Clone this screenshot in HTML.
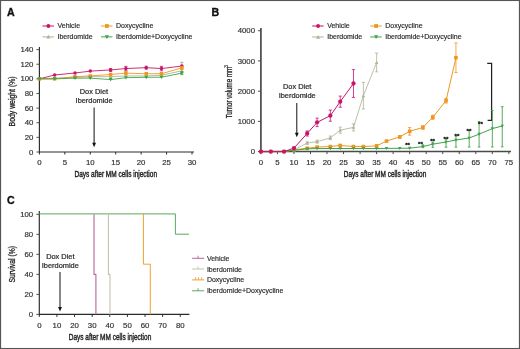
<!DOCTYPE html>
<html><head><meta charset="utf-8"><style>
html,body{margin:0;padding:0;background:#fff;}
svg{display:block;font-family:"Liberation Sans", sans-serif;will-change:transform;filter:blur(0.3px);}
</style></head><body>
<svg width="520" height="349" viewBox="0 0 520 349">
<rect width="520" height="349" fill="#fff"/>
<rect x="0.55" y="0.5" width="518.9" height="348" fill="none" stroke="#555" stroke-width="1.1"/>
<text x="6.90" y="15.90" font-size="10.6" text-anchor="start" fill="#111" font-weight="bold" stroke="#111" stroke-width="0.35" >A</text>
<line x1="39.40" y1="47.00" x2="39.40" y2="152.50" stroke="#2a2a2a" stroke-width="1.15" />
<line x1="38.90" y1="152.00" x2="194.01" y2="152.00" stroke="#2a2a2a" stroke-width="1.15" />
<line x1="36.40" y1="152.00" x2="39.40" y2="152.00" stroke="#444" stroke-width="0.9" />
<text x="33.40" y="154.55" font-size="7.8" text-anchor="end" fill="#333333" font-weight="normal" stroke="#333333" stroke-width="0.18" >0</text>
<line x1="36.40" y1="137.37" x2="39.40" y2="137.37" stroke="#444" stroke-width="0.9" />
<text x="33.40" y="139.92" font-size="7.8" text-anchor="end" fill="#333333" font-weight="normal" stroke="#333333" stroke-width="0.18" >20</text>
<line x1="36.40" y1="122.74" x2="39.40" y2="122.74" stroke="#444" stroke-width="0.9" />
<text x="33.40" y="125.29" font-size="7.8" text-anchor="end" fill="#333333" font-weight="normal" stroke="#333333" stroke-width="0.18" >40</text>
<line x1="36.40" y1="108.12" x2="39.40" y2="108.12" stroke="#444" stroke-width="0.9" />
<text x="33.40" y="110.67" font-size="7.8" text-anchor="end" fill="#333333" font-weight="normal" stroke="#333333" stroke-width="0.18" >60</text>
<line x1="36.40" y1="93.49" x2="39.40" y2="93.49" stroke="#444" stroke-width="0.9" />
<text x="33.40" y="96.04" font-size="7.8" text-anchor="end" fill="#333333" font-weight="normal" stroke="#333333" stroke-width="0.18" >80</text>
<line x1="36.40" y1="78.86" x2="39.40" y2="78.86" stroke="#444" stroke-width="0.9" />
<text x="33.40" y="81.41" font-size="7.8" text-anchor="end" fill="#333333" font-weight="normal" stroke="#333333" stroke-width="0.18" >100</text>
<line x1="36.40" y1="64.23" x2="39.40" y2="64.23" stroke="#444" stroke-width="0.9" />
<text x="33.40" y="66.78" font-size="7.8" text-anchor="end" fill="#333333" font-weight="normal" stroke="#333333" stroke-width="0.18" >120</text>
<line x1="36.40" y1="49.60" x2="39.40" y2="49.60" stroke="#444" stroke-width="0.9" />
<text x="33.40" y="52.15" font-size="7.8" text-anchor="end" fill="#333333" font-weight="normal" stroke="#333333" stroke-width="0.18" >140</text>
<line x1="39.40" y1="152.00" x2="39.40" y2="154.50" stroke="#2a2a2a" stroke-width="1.0" />
<text x="39.40" y="164.80" font-size="7.8" text-anchor="middle" fill="#333333" font-weight="normal" stroke="#333333" stroke-width="0.18" >0</text>
<line x1="64.83" y1="152.00" x2="64.83" y2="154.50" stroke="#2a2a2a" stroke-width="1.0" />
<text x="64.83" y="164.80" font-size="7.8" text-anchor="middle" fill="#333333" font-weight="normal" stroke="#333333" stroke-width="0.18" >5</text>
<line x1="90.27" y1="152.00" x2="90.27" y2="154.50" stroke="#2a2a2a" stroke-width="1.0" />
<text x="90.27" y="164.80" font-size="7.8" text-anchor="middle" fill="#333333" font-weight="normal" stroke="#333333" stroke-width="0.18" >10</text>
<line x1="115.70" y1="152.00" x2="115.70" y2="154.50" stroke="#2a2a2a" stroke-width="1.0" />
<text x="115.70" y="164.80" font-size="7.8" text-anchor="middle" fill="#333333" font-weight="normal" stroke="#333333" stroke-width="0.18" >15</text>
<line x1="141.14" y1="152.00" x2="141.14" y2="154.50" stroke="#2a2a2a" stroke-width="1.0" />
<text x="141.14" y="164.80" font-size="7.8" text-anchor="middle" fill="#333333" font-weight="normal" stroke="#333333" stroke-width="0.18" >20</text>
<line x1="166.57" y1="152.00" x2="166.57" y2="154.50" stroke="#2a2a2a" stroke-width="1.0" />
<text x="166.57" y="164.80" font-size="7.8" text-anchor="middle" fill="#333333" font-weight="normal" stroke="#333333" stroke-width="0.18" >25</text>
<line x1="192.01" y1="152.00" x2="192.01" y2="154.50" stroke="#2a2a2a" stroke-width="1.0" />
<text x="192.01" y="164.80" font-size="7.8" text-anchor="middle" fill="#333333" font-weight="normal" stroke="#333333" stroke-width="0.18" >30</text>
<text x="115.75" y="177.20" font-size="8.7" text-anchor="middle" fill="#222" font-weight="normal" stroke="#222" stroke-width="0.4" textLength="82.5" lengthAdjust="spacingAndGlyphs" >Days after MM cells injection</text>
<text x="14.60" y="101.40" font-size="8.2" text-anchor="middle" fill="#222" font-weight="normal" stroke="#222" stroke-width="0.3" textLength="50" lengthAdjust="spacingAndGlyphs" transform="rotate(-90 14.60 101.40)" >Body weight (%)</text>
<text x="93.90" y="93.90" font-size="7.4" text-anchor="middle" fill="#2a2a2a" font-weight="normal" stroke="#2a2a2a" stroke-width="0.22" >Dox Diet</text>
<text x="94.10" y="102.70" font-size="7.4" text-anchor="middle" fill="#2a2a2a" font-weight="normal" stroke="#2a2a2a" stroke-width="0.22" >Iberdomide</text>
<line x1="94.10" y1="107.50" x2="94.10" y2="143.70" stroke="#111" stroke-width="1.0" />
<polygon points="92.20,142.70 96.00,142.70 94.10,147.20" fill="#111"/>
<line x1="181.84" y1="66.79" x2="181.84" y2="62.33" stroke="#b08aa8" stroke-width="0.8" />
<line x1="180.24" y1="66.79" x2="183.44" y2="66.79" stroke="#b08aa8" stroke-width="0.8" />
<line x1="180.24" y1="62.33" x2="183.44" y2="62.33" stroke="#b08aa8" stroke-width="0.8" />
<line x1="181.84" y1="73.01" x2="181.84" y2="68.62" stroke="#b0b396" stroke-width="0.8" />
<line x1="180.24" y1="73.01" x2="183.44" y2="73.01" stroke="#b0b396" stroke-width="0.8" />
<line x1="180.24" y1="68.62" x2="183.44" y2="68.62" stroke="#b0b396" stroke-width="0.8" />
<polyline points="39.40,78.86 54.66,78.13 75.01,77.40 90.27,76.67 110.62,76.67 125.88,75.93 146.23,75.93 161.49,75.20 181.84,70.81" fill="none" stroke="#b0b396" stroke-width="0.9" stroke-linejoin="round"/>
<polygon points="39.40,77.06 37.60,80.30 41.20,80.30" fill="#b0b396"/>
<polygon points="54.66,76.33 52.86,79.57 56.46,79.57" fill="#b0b396"/>
<polygon points="75.01,75.60 73.21,78.84 76.81,78.84" fill="#b0b396"/>
<polygon points="90.27,74.87 88.47,78.11 92.07,78.11" fill="#b0b396"/>
<polygon points="110.62,74.87 108.82,78.11 112.42,78.11" fill="#b0b396"/>
<polygon points="125.88,74.13 124.08,77.37 127.68,77.37" fill="#b0b396"/>
<polygon points="146.23,74.13 144.43,77.37 148.03,77.37" fill="#b0b396"/>
<polygon points="161.49,73.40 159.69,76.64 163.29,76.64" fill="#b0b396"/>
<polygon points="181.84,69.01 180.04,72.25 183.64,72.25" fill="#b0b396"/>
<line x1="110.62" y1="71.40" x2="110.62" y2="68.47" stroke="#c8146a" stroke-width="0.8" />
<line x1="109.02" y1="71.40" x2="112.22" y2="71.40" stroke="#c8146a" stroke-width="0.8" />
<line x1="109.02" y1="68.47" x2="112.22" y2="68.47" stroke="#c8146a" stroke-width="0.8" />
<line x1="125.88" y1="70.74" x2="125.88" y2="66.35" stroke="#c8146a" stroke-width="0.8" />
<line x1="124.28" y1="70.74" x2="127.48" y2="70.74" stroke="#c8146a" stroke-width="0.8" />
<line x1="124.28" y1="66.35" x2="127.48" y2="66.35" stroke="#c8146a" stroke-width="0.8" />
<line x1="146.23" y1="69.13" x2="146.23" y2="66.21" stroke="#c8146a" stroke-width="0.8" />
<line x1="144.63" y1="69.13" x2="147.83" y2="69.13" stroke="#c8146a" stroke-width="0.8" />
<line x1="144.63" y1="66.21" x2="147.83" y2="66.21" stroke="#c8146a" stroke-width="0.8" />
<line x1="161.49" y1="70.74" x2="161.49" y2="66.35" stroke="#c8146a" stroke-width="0.8" />
<line x1="159.89" y1="70.74" x2="163.09" y2="70.74" stroke="#c8146a" stroke-width="0.8" />
<line x1="159.89" y1="66.35" x2="163.09" y2="66.35" stroke="#c8146a" stroke-width="0.8" />
<polyline points="39.40,78.86 54.66,74.98 75.01,73.01 90.27,71.11 110.62,69.94 125.88,68.55 146.23,67.67 161.49,68.55 181.84,66.06" fill="none" stroke="#c8146a" stroke-width="0.9" stroke-linejoin="round"/>
<circle cx="39.40" cy="78.86" r="1.76" fill="#c8146a"/>
<circle cx="54.66" cy="74.98" r="1.76" fill="#c8146a"/>
<circle cx="75.01" cy="73.01" r="1.76" fill="#c8146a"/>
<circle cx="90.27" cy="71.11" r="1.76" fill="#c8146a"/>
<circle cx="110.62" cy="69.94" r="1.76" fill="#c8146a"/>
<circle cx="125.88" cy="68.55" r="1.76" fill="#c8146a"/>
<circle cx="146.23" cy="67.67" r="1.76" fill="#c8146a"/>
<circle cx="161.49" cy="68.55" r="1.76" fill="#c8146a"/>
<circle cx="181.84" cy="66.06" r="1.76" fill="#c8146a"/>
<line x1="125.88" y1="74.62" x2="125.88" y2="71.69" stroke="#f0961e" stroke-width="0.8" />
<line x1="124.28" y1="74.62" x2="127.48" y2="74.62" stroke="#f0961e" stroke-width="0.8" />
<line x1="124.28" y1="71.69" x2="127.48" y2="71.69" stroke="#f0961e" stroke-width="0.8" />
<line x1="181.84" y1="69.35" x2="181.84" y2="66.43" stroke="#f0961e" stroke-width="0.8" />
<line x1="180.24" y1="69.35" x2="183.44" y2="69.35" stroke="#f0961e" stroke-width="0.8" />
<line x1="180.24" y1="66.43" x2="183.44" y2="66.43" stroke="#f0961e" stroke-width="0.8" />
<polyline points="39.40,78.86 54.66,78.86 75.01,76.67 90.27,75.93 110.62,74.47 125.88,73.16 146.23,73.74 161.49,73.74 181.84,67.89" fill="none" stroke="#f0961e" stroke-width="0.9" stroke-linejoin="round"/>
<rect x="37.69" y="77.15" width="3.42" height="3.42" fill="#f0961e"/>
<rect x="52.95" y="77.15" width="3.42" height="3.42" fill="#f0961e"/>
<rect x="73.30" y="74.96" width="3.42" height="3.42" fill="#f0961e"/>
<rect x="88.56" y="74.22" width="3.42" height="3.42" fill="#f0961e"/>
<rect x="108.91" y="72.76" width="3.42" height="3.42" fill="#f0961e"/>
<rect x="124.17" y="71.45" width="3.42" height="3.42" fill="#f0961e"/>
<rect x="144.52" y="72.03" width="3.42" height="3.42" fill="#f0961e"/>
<rect x="159.78" y="72.03" width="3.42" height="3.42" fill="#f0961e"/>
<rect x="180.13" y="66.18" width="3.42" height="3.42" fill="#f0961e"/>
<line x1="181.84" y1="74.62" x2="181.84" y2="71.69" stroke="#3fa34a" stroke-width="0.8" />
<line x1="180.24" y1="74.62" x2="183.44" y2="74.62" stroke="#3fa34a" stroke-width="0.8" />
<line x1="180.24" y1="71.69" x2="183.44" y2="71.69" stroke="#3fa34a" stroke-width="0.8" />
<polyline points="39.40,78.86 54.66,78.86 75.01,78.13 90.27,78.13 110.62,79.59 125.88,77.69 146.23,77.32 161.49,77.18 181.84,73.16" fill="none" stroke="#3fa34a" stroke-width="0.9" stroke-linejoin="round"/>
<polygon points="39.40,80.76 37.50,77.34 41.30,77.34" fill="#3fa34a"/>
<polygon points="54.66,80.76 52.76,77.34 56.56,77.34" fill="#3fa34a"/>
<polygon points="75.01,80.03 73.11,76.61 76.91,76.61" fill="#3fa34a"/>
<polygon points="90.27,80.03 88.37,76.61 92.17,76.61" fill="#3fa34a"/>
<polygon points="110.62,81.49 108.72,78.07 112.52,78.07" fill="#3fa34a"/>
<polygon points="125.88,79.59 123.98,76.17 127.78,76.17" fill="#3fa34a"/>
<polygon points="146.23,79.22 144.33,75.80 148.13,75.80" fill="#3fa34a"/>
<polygon points="161.49,79.08 159.59,75.66 163.39,75.66" fill="#3fa34a"/>
<polygon points="181.84,75.06 179.94,71.64 183.74,71.64" fill="#3fa34a"/>
<line x1="42.50" y1="26.00" x2="54.00" y2="26.00" stroke="#c8146a" stroke-width="1.0" />
<circle cx="48.40" cy="26.00" r="1.94" fill="#c8146a"/>
<text x="57.50" y="27.90" font-size="7.0" text-anchor="start" fill="#2a2a2a" font-weight="normal" stroke="#2a2a2a" stroke-width="0.16" >Vehicle</text>
<line x1="42.50" y1="36.90" x2="54.00" y2="36.90" stroke="#b0b396" stroke-width="1.0" />
<polygon points="48.40,34.80 46.30,38.58 50.50,38.58" fill="#b0b396"/>
<text x="57.50" y="38.80" font-size="7.0" text-anchor="start" fill="#2a2a2a" font-weight="normal" stroke="#2a2a2a" stroke-width="0.16" >Iberdomide</text>
<line x1="101.00" y1="26.00" x2="112.50" y2="26.00" stroke="#f0961e" stroke-width="1.0" />
<rect x="105.01" y="24.11" width="3.78" height="3.78" fill="#f0961e"/>
<text x="116.00" y="27.90" font-size="7.0" text-anchor="start" fill="#2a2a2a" font-weight="normal" stroke="#2a2a2a" stroke-width="0.16" >Doxycycline</text>
<line x1="101.00" y1="36.90" x2="112.50" y2="36.90" stroke="#3fa34a" stroke-width="1.0" />
<polygon points="106.90,39.00 104.80,35.22 109.00,35.22" fill="#3fa34a"/>
<text x="116.00" y="38.80" font-size="7.0" text-anchor="start" fill="#2a2a2a" font-weight="normal" stroke="#2a2a2a" stroke-width="0.16" >Iberdomide+Doxycycline</text>
<text x="211.40" y="16.00" font-size="10.6" text-anchor="start" fill="#111" font-weight="bold" stroke="#111" stroke-width="0.35" >B</text>
<line x1="260.90" y1="28.00" x2="260.90" y2="152.40" stroke="#4a4a4a" stroke-width="1.7" />
<line x1="260.10" y1="151.60" x2="511.00" y2="151.60" stroke="#4a4a4a" stroke-width="1.5" />
<line x1="257.90" y1="151.60" x2="260.90" y2="151.60" stroke="#4a4a4a" stroke-width="1.0" />
<text x="255.00" y="154.20" font-size="7.8" text-anchor="end" fill="#333333" font-weight="normal" stroke="#333333" stroke-width="0.18" >0</text>
<line x1="257.90" y1="121.38" x2="260.90" y2="121.38" stroke="#4a4a4a" stroke-width="1.0" />
<text x="255.00" y="123.97" font-size="7.8" text-anchor="end" fill="#333333" font-weight="normal" stroke="#333333" stroke-width="0.18" >1000</text>
<line x1="257.90" y1="91.15" x2="260.90" y2="91.15" stroke="#4a4a4a" stroke-width="1.0" />
<text x="255.00" y="93.75" font-size="7.8" text-anchor="end" fill="#333333" font-weight="normal" stroke="#333333" stroke-width="0.18" >2000</text>
<line x1="257.90" y1="60.92" x2="260.90" y2="60.92" stroke="#4a4a4a" stroke-width="1.0" />
<text x="255.00" y="63.52" font-size="7.8" text-anchor="end" fill="#333333" font-weight="normal" stroke="#333333" stroke-width="0.18" >3000</text>
<line x1="257.90" y1="30.70" x2="260.90" y2="30.70" stroke="#4a4a4a" stroke-width="1.0" />
<text x="255.00" y="33.30" font-size="7.8" text-anchor="end" fill="#333333" font-weight="normal" stroke="#333333" stroke-width="0.18" >4000</text>
<line x1="260.90" y1="151.60" x2="260.90" y2="154.10" stroke="#4a4a4a" stroke-width="1.0" />
<text x="260.90" y="164.80" font-size="7.8" text-anchor="middle" fill="#333333" font-weight="normal" stroke="#333333" stroke-width="0.18" >0</text>
<line x1="277.43" y1="151.60" x2="277.43" y2="154.10" stroke="#4a4a4a" stroke-width="1.0" />
<text x="277.43" y="164.80" font-size="7.8" text-anchor="middle" fill="#333333" font-weight="normal" stroke="#333333" stroke-width="0.18" >5</text>
<line x1="293.96" y1="151.60" x2="293.96" y2="154.10" stroke="#4a4a4a" stroke-width="1.0" />
<text x="293.96" y="164.80" font-size="7.8" text-anchor="middle" fill="#333333" font-weight="normal" stroke="#333333" stroke-width="0.18" >10</text>
<line x1="310.49" y1="151.60" x2="310.49" y2="154.10" stroke="#4a4a4a" stroke-width="1.0" />
<text x="310.49" y="164.80" font-size="7.8" text-anchor="middle" fill="#333333" font-weight="normal" stroke="#333333" stroke-width="0.18" >15</text>
<line x1="327.02" y1="151.60" x2="327.02" y2="154.10" stroke="#4a4a4a" stroke-width="1.0" />
<text x="327.02" y="164.80" font-size="7.8" text-anchor="middle" fill="#333333" font-weight="normal" stroke="#333333" stroke-width="0.18" >20</text>
<line x1="343.55" y1="151.60" x2="343.55" y2="154.10" stroke="#4a4a4a" stroke-width="1.0" />
<text x="343.55" y="164.80" font-size="7.8" text-anchor="middle" fill="#333333" font-weight="normal" stroke="#333333" stroke-width="0.18" >25</text>
<line x1="360.08" y1="151.60" x2="360.08" y2="154.10" stroke="#4a4a4a" stroke-width="1.0" />
<text x="360.08" y="164.80" font-size="7.8" text-anchor="middle" fill="#333333" font-weight="normal" stroke="#333333" stroke-width="0.18" >30</text>
<line x1="376.61" y1="151.60" x2="376.61" y2="154.10" stroke="#4a4a4a" stroke-width="1.0" />
<text x="376.61" y="164.80" font-size="7.8" text-anchor="middle" fill="#333333" font-weight="normal" stroke="#333333" stroke-width="0.18" >35</text>
<line x1="393.14" y1="151.60" x2="393.14" y2="154.10" stroke="#4a4a4a" stroke-width="1.0" />
<text x="393.14" y="164.80" font-size="7.8" text-anchor="middle" fill="#333333" font-weight="normal" stroke="#333333" stroke-width="0.18" >40</text>
<line x1="409.67" y1="151.60" x2="409.67" y2="154.10" stroke="#4a4a4a" stroke-width="1.0" />
<text x="409.67" y="164.80" font-size="7.8" text-anchor="middle" fill="#333333" font-weight="normal" stroke="#333333" stroke-width="0.18" >45</text>
<line x1="426.20" y1="151.60" x2="426.20" y2="154.10" stroke="#4a4a4a" stroke-width="1.0" />
<text x="426.20" y="164.80" font-size="7.8" text-anchor="middle" fill="#333333" font-weight="normal" stroke="#333333" stroke-width="0.18" >50</text>
<line x1="442.73" y1="151.60" x2="442.73" y2="154.10" stroke="#4a4a4a" stroke-width="1.0" />
<text x="442.73" y="164.80" font-size="7.8" text-anchor="middle" fill="#333333" font-weight="normal" stroke="#333333" stroke-width="0.18" >55</text>
<line x1="459.26" y1="151.60" x2="459.26" y2="154.10" stroke="#4a4a4a" stroke-width="1.0" />
<text x="459.26" y="164.80" font-size="7.8" text-anchor="middle" fill="#333333" font-weight="normal" stroke="#333333" stroke-width="0.18" >60</text>
<line x1="475.79" y1="151.60" x2="475.79" y2="154.10" stroke="#4a4a4a" stroke-width="1.0" />
<text x="475.79" y="164.80" font-size="7.8" text-anchor="middle" fill="#333333" font-weight="normal" stroke="#333333" stroke-width="0.18" >65</text>
<line x1="492.32" y1="151.60" x2="492.32" y2="154.10" stroke="#4a4a4a" stroke-width="1.0" />
<text x="492.32" y="164.80" font-size="7.8" text-anchor="middle" fill="#333333" font-weight="normal" stroke="#333333" stroke-width="0.18" >70</text>
<line x1="508.85" y1="151.60" x2="508.85" y2="154.10" stroke="#4a4a4a" stroke-width="1.0" />
<text x="508.85" y="164.80" font-size="7.8" text-anchor="middle" fill="#333333" font-weight="normal" stroke="#333333" stroke-width="0.18" >75</text>
<text x="385.00" y="177.00" font-size="8.7" text-anchor="middle" fill="#222" font-weight="normal" stroke="#222" stroke-width="0.4" textLength="82.5" lengthAdjust="spacingAndGlyphs" >Days after MM cells injection</text>
<text x="232.30" y="92.50" font-size="8.3" text-anchor="middle" fill="#222" font-weight="normal" stroke="#222" stroke-width="0.3" textLength="51.5" lengthAdjust="spacingAndGlyphs" transform="rotate(-90 232.30 92.50)" >Tumor volume mm</text>
<text x="228.30" y="66.40" font-size="4.8" text-anchor="middle" fill="#222" font-weight="normal" stroke="#222" stroke-width="0.15" transform="rotate(-90 228.30 66.40)" >3</text>
<text x="297.20" y="89.10" font-size="7.4" text-anchor="middle" fill="#2a2a2a" font-weight="normal" stroke="#2a2a2a" stroke-width="0.22" >Dox Diet</text>
<text x="297.20" y="98.30" font-size="7.4" text-anchor="middle" fill="#2a2a2a" font-weight="normal" stroke="#2a2a2a" stroke-width="0.22" >Iberdomide</text>
<line x1="296.80" y1="103.00" x2="296.80" y2="133.70" stroke="#111" stroke-width="1.0" />
<polygon points="294.90,132.70 298.70,132.70 296.80,137.20" fill="#111"/>
<polyline points="487.2,63.4 491.6,63.4 491.6,120.3 487.6,120.3" fill="none" stroke="#222" stroke-width="1.25"/>
<line x1="307.18" y1="144.19" x2="307.18" y2="141.78" stroke="#b0b396" stroke-width="0.8" />
<line x1="305.58" y1="144.19" x2="308.78" y2="144.19" stroke="#b0b396" stroke-width="0.8" />
<line x1="305.58" y1="141.78" x2="308.78" y2="141.78" stroke="#b0b396" stroke-width="0.8" />
<line x1="317.10" y1="143.14" x2="317.10" y2="140.11" stroke="#b0b396" stroke-width="0.8" />
<line x1="315.50" y1="143.14" x2="318.70" y2="143.14" stroke="#b0b396" stroke-width="0.8" />
<line x1="315.50" y1="140.11" x2="318.70" y2="140.11" stroke="#b0b396" stroke-width="0.8" />
<line x1="330.33" y1="139.66" x2="330.33" y2="136.03" stroke="#b0b396" stroke-width="0.8" />
<line x1="328.73" y1="139.66" x2="331.93" y2="139.66" stroke="#b0b396" stroke-width="0.8" />
<line x1="328.73" y1="136.03" x2="331.93" y2="136.03" stroke="#b0b396" stroke-width="0.8" />
<line x1="340.24" y1="133.19" x2="340.24" y2="127.15" stroke="#b0b396" stroke-width="0.8" />
<line x1="338.64" y1="133.19" x2="341.84" y2="133.19" stroke="#b0b396" stroke-width="0.8" />
<line x1="338.64" y1="127.15" x2="341.84" y2="127.15" stroke="#b0b396" stroke-width="0.8" />
<line x1="353.47" y1="130.90" x2="353.47" y2="123.94" stroke="#b0b396" stroke-width="0.8" />
<line x1="351.87" y1="130.90" x2="355.07" y2="130.90" stroke="#b0b396" stroke-width="0.8" />
<line x1="351.87" y1="123.94" x2="355.07" y2="123.94" stroke="#b0b396" stroke-width="0.8" />
<line x1="363.39" y1="109.01" x2="363.39" y2="82.41" stroke="#b0b396" stroke-width="0.8" />
<line x1="361.79" y1="109.01" x2="364.99" y2="109.01" stroke="#b0b396" stroke-width="0.8" />
<line x1="361.79" y1="82.41" x2="364.99" y2="82.41" stroke="#b0b396" stroke-width="0.8" />
<line x1="376.61" y1="71.84" x2="376.61" y2="53.10" stroke="#b0b396" stroke-width="0.8" />
<line x1="375.01" y1="71.84" x2="378.21" y2="71.84" stroke="#b0b396" stroke-width="0.8" />
<line x1="375.01" y1="53.10" x2="378.21" y2="53.10" stroke="#b0b396" stroke-width="0.8" />
<polyline points="260.90,151.60 270.82,151.60 284.04,151.60 293.96,149.79 307.18,142.99 317.10,141.63 330.33,137.85 340.24,130.17 353.47,127.42 363.39,95.71 376.61,62.47" fill="none" stroke="#b0b396" stroke-width="0.85" stroke-linejoin="round"/>
<polygon points="260.90,149.80 259.10,153.04 262.70,153.04" fill="#b0b396"/>
<polygon points="270.82,149.80 269.02,153.04 272.62,153.04" fill="#b0b396"/>
<polygon points="284.04,149.80 282.24,153.04 285.84,153.04" fill="#b0b396"/>
<polygon points="293.96,147.99 292.16,151.23 295.76,151.23" fill="#b0b396"/>
<polygon points="307.18,141.19 305.38,144.43 308.98,144.43" fill="#b0b396"/>
<polygon points="317.10,139.83 315.30,143.07 318.90,143.07" fill="#b0b396"/>
<polygon points="330.33,136.05 328.53,139.29 332.13,139.29" fill="#b0b396"/>
<polygon points="340.24,128.37 338.44,131.61 342.04,131.61" fill="#b0b396"/>
<polygon points="353.47,125.62 351.67,128.86 355.27,128.86" fill="#b0b396"/>
<polygon points="363.39,93.91 361.59,97.15 365.19,97.15" fill="#b0b396"/>
<polygon points="376.61,60.67 374.81,63.91 378.41,63.91" fill="#b0b396"/>
<line x1="330.33" y1="147.46" x2="330.33" y2="145.65" stroke="#f0961e" stroke-width="0.8" />
<line x1="328.73" y1="147.46" x2="331.93" y2="147.46" stroke="#f0961e" stroke-width="0.8" />
<line x1="328.73" y1="145.65" x2="331.93" y2="145.65" stroke="#f0961e" stroke-width="0.8" />
<line x1="340.24" y1="146.37" x2="340.24" y2="144.56" stroke="#f0961e" stroke-width="0.8" />
<line x1="338.64" y1="146.37" x2="341.84" y2="146.37" stroke="#f0961e" stroke-width="0.8" />
<line x1="338.64" y1="144.56" x2="341.84" y2="144.56" stroke="#f0961e" stroke-width="0.8" />
<line x1="353.47" y1="147.46" x2="353.47" y2="145.65" stroke="#f0961e" stroke-width="0.8" />
<line x1="351.87" y1="147.46" x2="355.07" y2="147.46" stroke="#f0961e" stroke-width="0.8" />
<line x1="351.87" y1="145.65" x2="355.07" y2="145.65" stroke="#f0961e" stroke-width="0.8" />
<line x1="363.39" y1="147.46" x2="363.39" y2="145.65" stroke="#f0961e" stroke-width="0.8" />
<line x1="361.79" y1="147.46" x2="364.99" y2="147.46" stroke="#f0961e" stroke-width="0.8" />
<line x1="361.79" y1="145.65" x2="364.99" y2="145.65" stroke="#f0961e" stroke-width="0.8" />
<line x1="376.61" y1="146.76" x2="376.61" y2="144.95" stroke="#f0961e" stroke-width="0.8" />
<line x1="375.01" y1="146.76" x2="378.21" y2="146.76" stroke="#f0961e" stroke-width="0.8" />
<line x1="375.01" y1="144.95" x2="378.21" y2="144.95" stroke="#f0961e" stroke-width="0.8" />
<line x1="399.75" y1="138.12" x2="399.75" y2="135.70" stroke="#f0961e" stroke-width="0.8" />
<line x1="398.15" y1="138.12" x2="401.35" y2="138.12" stroke="#f0961e" stroke-width="0.8" />
<line x1="398.15" y1="135.70" x2="401.35" y2="135.70" stroke="#f0961e" stroke-width="0.8" />
<line x1="409.67" y1="135.16" x2="409.67" y2="127.54" stroke="#f0961e" stroke-width="0.8" />
<line x1="408.07" y1="135.16" x2="411.27" y2="135.16" stroke="#f0961e" stroke-width="0.8" />
<line x1="408.07" y1="127.54" x2="411.27" y2="127.54" stroke="#f0961e" stroke-width="0.8" />
<line x1="422.89" y1="129.29" x2="422.89" y2="125.67" stroke="#f0961e" stroke-width="0.8" />
<line x1="421.29" y1="129.29" x2="424.49" y2="129.29" stroke="#f0961e" stroke-width="0.8" />
<line x1="421.29" y1="125.67" x2="424.49" y2="125.67" stroke="#f0961e" stroke-width="0.8" />
<line x1="432.81" y1="119.38" x2="432.81" y2="115.15" stroke="#f0961e" stroke-width="0.8" />
<line x1="431.21" y1="119.38" x2="434.41" y2="119.38" stroke="#f0961e" stroke-width="0.8" />
<line x1="431.21" y1="115.15" x2="434.41" y2="115.15" stroke="#f0961e" stroke-width="0.8" />
<line x1="446.04" y1="103.09" x2="446.04" y2="98.25" stroke="#f0961e" stroke-width="0.8" />
<line x1="444.44" y1="103.09" x2="447.64" y2="103.09" stroke="#f0961e" stroke-width="0.8" />
<line x1="444.44" y1="98.25" x2="447.64" y2="98.25" stroke="#f0961e" stroke-width="0.8" />
<line x1="455.95" y1="72.44" x2="455.95" y2="42.94" stroke="#f0961e" stroke-width="0.8" />
<line x1="454.35" y1="72.44" x2="457.55" y2="72.44" stroke="#f0961e" stroke-width="0.8" />
<line x1="454.35" y1="42.94" x2="457.55" y2="42.94" stroke="#f0961e" stroke-width="0.8" />
<polyline points="260.90,151.60 270.82,151.60 284.04,151.60 293.96,149.79 307.18,148.28 317.10,147.07 330.33,146.55 340.24,145.46 353.47,146.55 363.39,146.55 376.61,145.86 386.53,141.08 399.75,136.91 409.67,131.35 422.89,127.48 432.81,117.26 446.04,100.67 455.95,57.69" fill="none" stroke="#f0961e" stroke-width="1.0" stroke-linejoin="round"/>
<rect x="259.10" y="149.80" width="3.60" height="3.60" fill="#f0961e"/>
<rect x="269.02" y="149.80" width="3.60" height="3.60" fill="#f0961e"/>
<rect x="282.24" y="149.80" width="3.60" height="3.60" fill="#f0961e"/>
<rect x="292.16" y="147.99" width="3.60" height="3.60" fill="#f0961e"/>
<rect x="305.38" y="146.48" width="3.60" height="3.60" fill="#f0961e"/>
<rect x="315.30" y="145.27" width="3.60" height="3.60" fill="#f0961e"/>
<rect x="328.53" y="144.75" width="3.60" height="3.60" fill="#f0961e"/>
<rect x="338.44" y="143.66" width="3.60" height="3.60" fill="#f0961e"/>
<rect x="351.67" y="144.75" width="3.60" height="3.60" fill="#f0961e"/>
<rect x="361.59" y="144.75" width="3.60" height="3.60" fill="#f0961e"/>
<rect x="374.81" y="144.06" width="3.60" height="3.60" fill="#f0961e"/>
<rect x="384.73" y="139.28" width="3.60" height="3.60" fill="#f0961e"/>
<rect x="397.95" y="135.11" width="3.60" height="3.60" fill="#f0961e"/>
<rect x="407.87" y="129.55" width="3.60" height="3.60" fill="#f0961e"/>
<rect x="421.09" y="125.68" width="3.60" height="3.60" fill="#f0961e"/>
<rect x="431.01" y="115.46" width="3.60" height="3.60" fill="#f0961e"/>
<rect x="444.24" y="98.87" width="3.60" height="3.60" fill="#f0961e"/>
<rect x="454.15" y="55.89" width="3.60" height="3.60" fill="#f0961e"/>
<line x1="422.89" y1="144.80" x2="422.89" y2="147.60" stroke="#3fa34a" stroke-width="0.9" />
<line x1="421.59" y1="147.60" x2="424.19" y2="147.60" stroke="#3fa34a" stroke-width="0.9" />
<line x1="421.59" y1="144.80" x2="424.19" y2="144.80" stroke="#3fa34a" stroke-width="0.9" />
<line x1="432.81" y1="142.00" x2="432.81" y2="147.30" stroke="#3fa34a" stroke-width="0.9" />
<line x1="431.51" y1="147.30" x2="434.11" y2="147.30" stroke="#3fa34a" stroke-width="0.9" />
<line x1="431.51" y1="142.00" x2="434.11" y2="142.00" stroke="#3fa34a" stroke-width="0.9" />
<line x1="446.04" y1="139.00" x2="446.04" y2="147.20" stroke="#3fa34a" stroke-width="0.9" />
<line x1="444.74" y1="147.20" x2="447.34" y2="147.20" stroke="#3fa34a" stroke-width="0.9" />
<line x1="444.74" y1="139.00" x2="447.34" y2="139.00" stroke="#3fa34a" stroke-width="0.9" />
<line x1="455.95" y1="136.00" x2="455.95" y2="147.10" stroke="#3fa34a" stroke-width="0.9" />
<line x1="454.65" y1="147.10" x2="457.25" y2="147.10" stroke="#3fa34a" stroke-width="0.9" />
<line x1="454.65" y1="136.00" x2="457.25" y2="136.00" stroke="#3fa34a" stroke-width="0.9" />
<line x1="469.18" y1="130.50" x2="469.18" y2="147.00" stroke="#3fa34a" stroke-width="0.9" />
<line x1="467.88" y1="147.00" x2="470.48" y2="147.00" stroke="#3fa34a" stroke-width="0.9" />
<line x1="467.88" y1="130.50" x2="470.48" y2="130.50" stroke="#3fa34a" stroke-width="0.9" />
<line x1="479.10" y1="121.60" x2="479.10" y2="147.00" stroke="#3fa34a" stroke-width="0.9" />
<line x1="477.80" y1="147.00" x2="480.40" y2="147.00" stroke="#3fa34a" stroke-width="0.9" />
<line x1="477.80" y1="121.60" x2="480.40" y2="121.60" stroke="#3fa34a" stroke-width="0.9" />
<line x1="492.32" y1="110.50" x2="492.32" y2="147.00" stroke="#3fa34a" stroke-width="0.9" />
<line x1="491.02" y1="147.00" x2="493.62" y2="147.00" stroke="#3fa34a" stroke-width="0.9" />
<line x1="491.02" y1="110.50" x2="493.62" y2="110.50" stroke="#3fa34a" stroke-width="0.9" />
<line x1="502.24" y1="106.70" x2="502.24" y2="146.80" stroke="#3fa34a" stroke-width="0.9" />
<line x1="500.94" y1="146.80" x2="503.54" y2="146.80" stroke="#3fa34a" stroke-width="0.9" />
<line x1="500.94" y1="106.70" x2="503.54" y2="106.70" stroke="#3fa34a" stroke-width="0.9" />
<polyline points="260.90,151.60 270.82,151.60 284.04,151.40 293.96,150.30 307.18,148.80 317.10,148.60 330.33,148.50 340.24,148.50 353.47,148.50 363.39,148.50 376.61,148.50 386.53,148.40 399.75,148.30 409.67,148.20 422.89,146.60 432.81,144.20 446.04,142.00 455.95,140.00 469.18,138.00 479.10,134.20 492.32,128.60 502.24,126.00" fill="none" stroke="#3fa34a" stroke-width="1.0" stroke-linejoin="round"/>
<polygon points="260.90,153.30 259.20,150.24 262.60,150.24" fill="#3fa34a"/>
<polygon points="270.82,153.30 269.12,150.24 272.52,150.24" fill="#3fa34a"/>
<polygon points="284.04,153.10 282.34,150.04 285.74,150.04" fill="#3fa34a"/>
<polygon points="293.96,152.00 292.26,148.94 295.66,148.94" fill="#3fa34a"/>
<polygon points="307.18,150.50 305.48,147.44 308.88,147.44" fill="#3fa34a"/>
<polygon points="317.10,150.30 315.40,147.24 318.80,147.24" fill="#3fa34a"/>
<polygon points="330.33,150.20 328.63,147.14 332.03,147.14" fill="#3fa34a"/>
<polygon points="340.24,150.20 338.54,147.14 341.94,147.14" fill="#3fa34a"/>
<polygon points="353.47,150.20 351.77,147.14 355.17,147.14" fill="#3fa34a"/>
<polygon points="363.39,150.20 361.69,147.14 365.09,147.14" fill="#3fa34a"/>
<polygon points="376.61,150.20 374.91,147.14 378.31,147.14" fill="#3fa34a"/>
<polygon points="386.53,150.10 384.83,147.04 388.23,147.04" fill="#3fa34a"/>
<polygon points="399.75,150.00 398.05,146.94 401.45,146.94" fill="#3fa34a"/>
<polygon points="409.67,149.90 407.97,146.84 411.37,146.84" fill="#3fa34a"/>
<polygon points="422.89,148.30 421.19,145.24 424.59,145.24" fill="#3fa34a"/>
<polygon points="432.81,145.90 431.11,142.84 434.51,142.84" fill="#3fa34a"/>
<polygon points="446.04,143.70 444.34,140.64 447.74,140.64" fill="#3fa34a"/>
<polygon points="455.95,141.70 454.25,138.64 457.65,138.64" fill="#3fa34a"/>
<polygon points="469.18,139.70 467.48,136.64 470.88,136.64" fill="#3fa34a"/>
<polygon points="479.10,135.90 477.40,132.84 480.80,132.84" fill="#3fa34a"/>
<polygon points="492.32,130.30 490.62,127.24 494.02,127.24" fill="#3fa34a"/>
<polygon points="502.24,127.70 500.54,124.64 503.94,124.64" fill="#3fa34a"/>
<line x1="307.18" y1="136.03" x2="307.18" y2="130.90" stroke="#c8146a" stroke-width="0.8" />
<line x1="305.58" y1="136.03" x2="308.78" y2="136.03" stroke="#c8146a" stroke-width="0.8" />
<line x1="305.58" y1="130.90" x2="308.78" y2="130.90" stroke="#c8146a" stroke-width="0.8" />
<line x1="317.10" y1="126.60" x2="317.10" y2="118.14" stroke="#c8146a" stroke-width="0.8" />
<line x1="315.50" y1="126.60" x2="318.70" y2="126.60" stroke="#c8146a" stroke-width="0.8" />
<line x1="315.50" y1="118.14" x2="318.70" y2="118.14" stroke="#c8146a" stroke-width="0.8" />
<line x1="330.33" y1="121.22" x2="330.33" y2="110.04" stroke="#c8146a" stroke-width="0.8" />
<line x1="328.73" y1="121.22" x2="331.93" y2="121.22" stroke="#c8146a" stroke-width="0.8" />
<line x1="328.73" y1="110.04" x2="331.93" y2="110.04" stroke="#c8146a" stroke-width="0.8" />
<line x1="340.24" y1="107.26" x2="340.24" y2="96.08" stroke="#c8146a" stroke-width="0.8" />
<line x1="338.64" y1="107.26" x2="341.84" y2="107.26" stroke="#c8146a" stroke-width="0.8" />
<line x1="338.64" y1="96.08" x2="341.84" y2="96.08" stroke="#c8146a" stroke-width="0.8" />
<line x1="353.47" y1="97.41" x2="353.47" y2="69.60" stroke="#c8146a" stroke-width="0.8" />
<line x1="351.87" y1="97.41" x2="355.07" y2="97.41" stroke="#c8146a" stroke-width="0.8" />
<line x1="351.87" y1="69.60" x2="355.07" y2="69.60" stroke="#c8146a" stroke-width="0.8" />
<polyline points="260.90,151.60 270.82,151.60 284.04,151.60 293.96,148.12 307.18,133.47 317.10,122.37 330.33,115.63 340.24,101.67 353.47,83.50" fill="none" stroke="#c8146a" stroke-width="1.0" stroke-linejoin="round"/>
<circle cx="260.90" cy="151.60" r="2.13" fill="#c8146a"/>
<circle cx="270.82" cy="151.60" r="2.13" fill="#c8146a"/>
<circle cx="284.04" cy="151.60" r="2.13" fill="#c8146a"/>
<circle cx="293.96" cy="148.12" r="2.13" fill="#c8146a"/>
<circle cx="307.18" cy="133.47" r="2.13" fill="#c8146a"/>
<circle cx="317.10" cy="122.37" r="2.13" fill="#c8146a"/>
<circle cx="330.33" cy="115.63" r="2.13" fill="#c8146a"/>
<circle cx="340.24" cy="101.67" r="2.13" fill="#c8146a"/>
<circle cx="353.47" cy="83.50" r="2.13" fill="#c8146a"/>
<text x="407.60" y="146.80" font-size="6.2" text-anchor="middle" fill="#1a1a1a" font-weight="bold" stroke="#1a1a1a" stroke-width="0.3" >**</text>
<text x="420.50" y="146.20" font-size="6.2" text-anchor="middle" fill="#1a1a1a" font-weight="bold" stroke="#1a1a1a" stroke-width="0.3" >**</text>
<text x="432.60" y="142.60" font-size="6.2" text-anchor="middle" fill="#1a1a1a" font-weight="bold" stroke="#1a1a1a" stroke-width="0.3" >**</text>
<text x="446.00" y="141.20" font-size="6.2" text-anchor="middle" fill="#1a1a1a" font-weight="bold" stroke="#1a1a1a" stroke-width="0.3" >**</text>
<text x="457.00" y="137.80" font-size="6.2" text-anchor="middle" fill="#1a1a1a" font-weight="bold" stroke="#1a1a1a" stroke-width="0.3" >**</text>
<text x="469.00" y="132.80" font-size="6.2" text-anchor="middle" fill="#1a1a1a" font-weight="bold" stroke="#1a1a1a" stroke-width="0.3" >**</text>
<text x="480.50" y="125.60" font-size="6.2" text-anchor="middle" fill="#1a1a1a" font-weight="bold" stroke="#1a1a1a" stroke-width="0.3" >**</text>
<line x1="312.20" y1="26.00" x2="323.70" y2="26.00" stroke="#c8146a" stroke-width="1.0" />
<circle cx="318.10" cy="26.00" r="1.94" fill="#c8146a"/>
<text x="327.20" y="27.90" font-size="7.0" text-anchor="start" fill="#2a2a2a" font-weight="normal" stroke="#2a2a2a" stroke-width="0.16" >Vehicle</text>
<line x1="312.20" y1="37.00" x2="323.70" y2="37.00" stroke="#b0b396" stroke-width="1.0" />
<polygon points="318.10,34.90 316.00,38.68 320.20,38.68" fill="#b0b396"/>
<text x="327.20" y="38.90" font-size="7.0" text-anchor="start" fill="#2a2a2a" font-weight="normal" stroke="#2a2a2a" stroke-width="0.16" >Iberdomide</text>
<line x1="370.20" y1="26.00" x2="381.70" y2="26.00" stroke="#f0961e" stroke-width="1.0" />
<rect x="374.21" y="24.11" width="3.78" height="3.78" fill="#f0961e"/>
<text x="385.20" y="27.90" font-size="7.0" text-anchor="start" fill="#2a2a2a" font-weight="normal" stroke="#2a2a2a" stroke-width="0.16" >Doxycycline</text>
<line x1="370.20" y1="37.00" x2="381.70" y2="37.00" stroke="#3fa34a" stroke-width="1.0" />
<polygon points="376.10,39.10 374.00,35.32 378.20,35.32" fill="#3fa34a"/>
<text x="385.20" y="38.90" font-size="7.0" text-anchor="start" fill="#2a2a2a" font-weight="normal" stroke="#2a2a2a" stroke-width="0.16" >Iberdomide+Doxycycline</text>
<text x="6.90" y="203.90" font-size="10.6" text-anchor="start" fill="#111" font-weight="bold" stroke="#111" stroke-width="0.35" >C</text>
<line x1="39.30" y1="211.10" x2="39.30" y2="314.90" stroke="#2a2a2a" stroke-width="1.15" />
<line x1="38.80" y1="314.40" x2="189.40" y2="314.40" stroke="#2a2a2a" stroke-width="1.15" />
<line x1="36.30" y1="314.40" x2="39.30" y2="314.40" stroke="#444" stroke-width="0.9" />
<text x="33.20" y="317.00" font-size="7.8" text-anchor="end" fill="#333333" font-weight="normal" stroke="#333333" stroke-width="0.18" >0</text>
<line x1="36.30" y1="294.38" x2="39.30" y2="294.38" stroke="#444" stroke-width="0.9" />
<text x="33.20" y="296.98" font-size="7.8" text-anchor="end" fill="#333333" font-weight="normal" stroke="#333333" stroke-width="0.18" >20</text>
<line x1="36.30" y1="274.36" x2="39.30" y2="274.36" stroke="#444" stroke-width="0.9" />
<text x="33.20" y="276.96" font-size="7.8" text-anchor="end" fill="#333333" font-weight="normal" stroke="#333333" stroke-width="0.18" >40</text>
<line x1="36.30" y1="254.34" x2="39.30" y2="254.34" stroke="#444" stroke-width="0.9" />
<text x="33.20" y="256.94" font-size="7.8" text-anchor="end" fill="#333333" font-weight="normal" stroke="#333333" stroke-width="0.18" >60</text>
<line x1="36.30" y1="234.32" x2="39.30" y2="234.32" stroke="#444" stroke-width="0.9" />
<text x="33.20" y="236.92" font-size="7.8" text-anchor="end" fill="#333333" font-weight="normal" stroke="#333333" stroke-width="0.18" >80</text>
<line x1="36.30" y1="214.30" x2="39.30" y2="214.30" stroke="#444" stroke-width="0.9" />
<text x="33.20" y="216.90" font-size="7.8" text-anchor="end" fill="#333333" font-weight="normal" stroke="#333333" stroke-width="0.18" >100</text>
<line x1="39.30" y1="314.40" x2="39.30" y2="316.90" stroke="#2a2a2a" stroke-width="1.0" />
<text x="39.30" y="327.90" font-size="7.8" text-anchor="middle" fill="#333333" font-weight="normal" stroke="#333333" stroke-width="0.18" >0</text>
<line x1="56.92" y1="314.40" x2="56.92" y2="316.90" stroke="#2a2a2a" stroke-width="1.0" />
<text x="56.92" y="327.90" font-size="7.8" text-anchor="middle" fill="#333333" font-weight="normal" stroke="#333333" stroke-width="0.18" >10</text>
<line x1="74.54" y1="314.40" x2="74.54" y2="316.90" stroke="#2a2a2a" stroke-width="1.0" />
<text x="74.54" y="327.90" font-size="7.8" text-anchor="middle" fill="#333333" font-weight="normal" stroke="#333333" stroke-width="0.18" >20</text>
<line x1="92.16" y1="314.40" x2="92.16" y2="316.90" stroke="#2a2a2a" stroke-width="1.0" />
<text x="92.16" y="327.90" font-size="7.8" text-anchor="middle" fill="#333333" font-weight="normal" stroke="#333333" stroke-width="0.18" >30</text>
<line x1="109.78" y1="314.40" x2="109.78" y2="316.90" stroke="#2a2a2a" stroke-width="1.0" />
<text x="109.78" y="327.90" font-size="7.8" text-anchor="middle" fill="#333333" font-weight="normal" stroke="#333333" stroke-width="0.18" >40</text>
<line x1="127.40" y1="314.40" x2="127.40" y2="316.90" stroke="#2a2a2a" stroke-width="1.0" />
<text x="127.40" y="327.90" font-size="7.8" text-anchor="middle" fill="#333333" font-weight="normal" stroke="#333333" stroke-width="0.18" >50</text>
<line x1="145.02" y1="314.40" x2="145.02" y2="316.90" stroke="#2a2a2a" stroke-width="1.0" />
<text x="145.02" y="327.90" font-size="7.8" text-anchor="middle" fill="#333333" font-weight="normal" stroke="#333333" stroke-width="0.18" >60</text>
<line x1="162.64" y1="314.40" x2="162.64" y2="316.90" stroke="#2a2a2a" stroke-width="1.0" />
<text x="162.64" y="327.90" font-size="7.8" text-anchor="middle" fill="#333333" font-weight="normal" stroke="#333333" stroke-width="0.18" >70</text>
<line x1="180.26" y1="314.40" x2="180.26" y2="316.90" stroke="#2a2a2a" stroke-width="1.0" />
<text x="180.26" y="327.90" font-size="7.8" text-anchor="middle" fill="#333333" font-weight="normal" stroke="#333333" stroke-width="0.18" >80</text>
<text x="110.00" y="340.30" font-size="8.7" text-anchor="middle" fill="#222" font-weight="normal" stroke="#222" stroke-width="0.4" textLength="82.5" lengthAdjust="spacingAndGlyphs" >Days after MM cells injection</text>
<text x="14.80" y="264.30" font-size="8.2" text-anchor="middle" fill="#222" font-weight="normal" stroke="#222" stroke-width="0.3" textLength="36.5" lengthAdjust="spacingAndGlyphs" transform="rotate(-90 14.80 264.30)" >Survival (%)</text>
<text x="60.30" y="258.50" font-size="7.4" text-anchor="middle" fill="#2a2a2a" font-weight="normal" stroke="#2a2a2a" stroke-width="0.22" >Dox Diet</text>
<text x="60.30" y="267.50" font-size="7.4" text-anchor="middle" fill="#2a2a2a" font-weight="normal" stroke="#2a2a2a" stroke-width="0.22" >Iberdomide</text>
<line x1="60.00" y1="272.00" x2="60.00" y2="307.90" stroke="#111" stroke-width="1.0" />
<polygon points="58.10,306.90 61.90,306.90 60.00,311.40" fill="#111"/>
<polyline points="39.30,213.90 175.40,213.90 175.40,234.20 189.00,234.20" fill="none" stroke="#5aa860" stroke-width="1.0" stroke-linejoin="round"/>
<polyline points="94.00,214.30 94.00,274.40 95.90,274.40 95.90,314.40" fill="none" stroke="#b8649a" stroke-width="1.1" stroke-linejoin="round"/>
<polyline points="108.40,214.30 108.40,274.40 110.00,274.40 110.00,314.40" fill="none" stroke="#c4c4b0" stroke-width="1.1" stroke-linejoin="round"/>
<polyline points="143.40,213.90 143.40,264.20 150.30,264.20 150.30,314.40" fill="none" stroke="#f0a030" stroke-width="1.0" stroke-linejoin="round"/>
<line x1="192.10" y1="258.30" x2="204.20" y2="258.30" stroke="#b8649a" stroke-width="1.0" />
<line x1="198.00" y1="255.70" x2="198.00" y2="258.30" stroke="#b8649a" stroke-width="0.9" />
<text x="206.90" y="260.80" font-size="7.0" text-anchor="start" fill="#2a2a2a" font-weight="normal" stroke="#2a2a2a" stroke-width="0.16" >Vehicle</text>
<line x1="192.10" y1="269.00" x2="204.20" y2="269.00" stroke="#c4c4b0" stroke-width="1.0" />
<line x1="198.00" y1="266.40" x2="198.00" y2="269.00" stroke="#c4c4b0" stroke-width="0.9" />
<text x="206.90" y="271.50" font-size="7.0" text-anchor="start" fill="#2a2a2a" font-weight="normal" stroke="#2a2a2a" stroke-width="0.16" >Iberdomide</text>
<line x1="192.10" y1="279.90" x2="204.20" y2="279.90" stroke="#f0a030" stroke-width="1.0" />
<line x1="195.60" y1="277.30" x2="195.60" y2="279.90" stroke="#f0a030" stroke-width="0.9" />
<line x1="198.60" y1="277.30" x2="198.60" y2="279.90" stroke="#f0a030" stroke-width="0.9" />
<line x1="201.60" y1="277.30" x2="201.60" y2="279.90" stroke="#f0a030" stroke-width="0.9" />
<text x="206.90" y="282.40" font-size="7.0" text-anchor="start" fill="#2a2a2a" font-weight="normal" stroke="#2a2a2a" stroke-width="0.16" >Doxycycline</text>
<line x1="192.10" y1="290.80" x2="204.20" y2="290.80" stroke="#5aa860" stroke-width="1.0" />
<line x1="198.00" y1="288.20" x2="198.00" y2="290.80" stroke="#5aa860" stroke-width="0.9" />
<text x="206.90" y="293.30" font-size="7.0" text-anchor="start" fill="#2a2a2a" font-weight="normal" stroke="#2a2a2a" stroke-width="0.16" >Iberdomide+Doxycycline</text>
</svg>
</body></html>
